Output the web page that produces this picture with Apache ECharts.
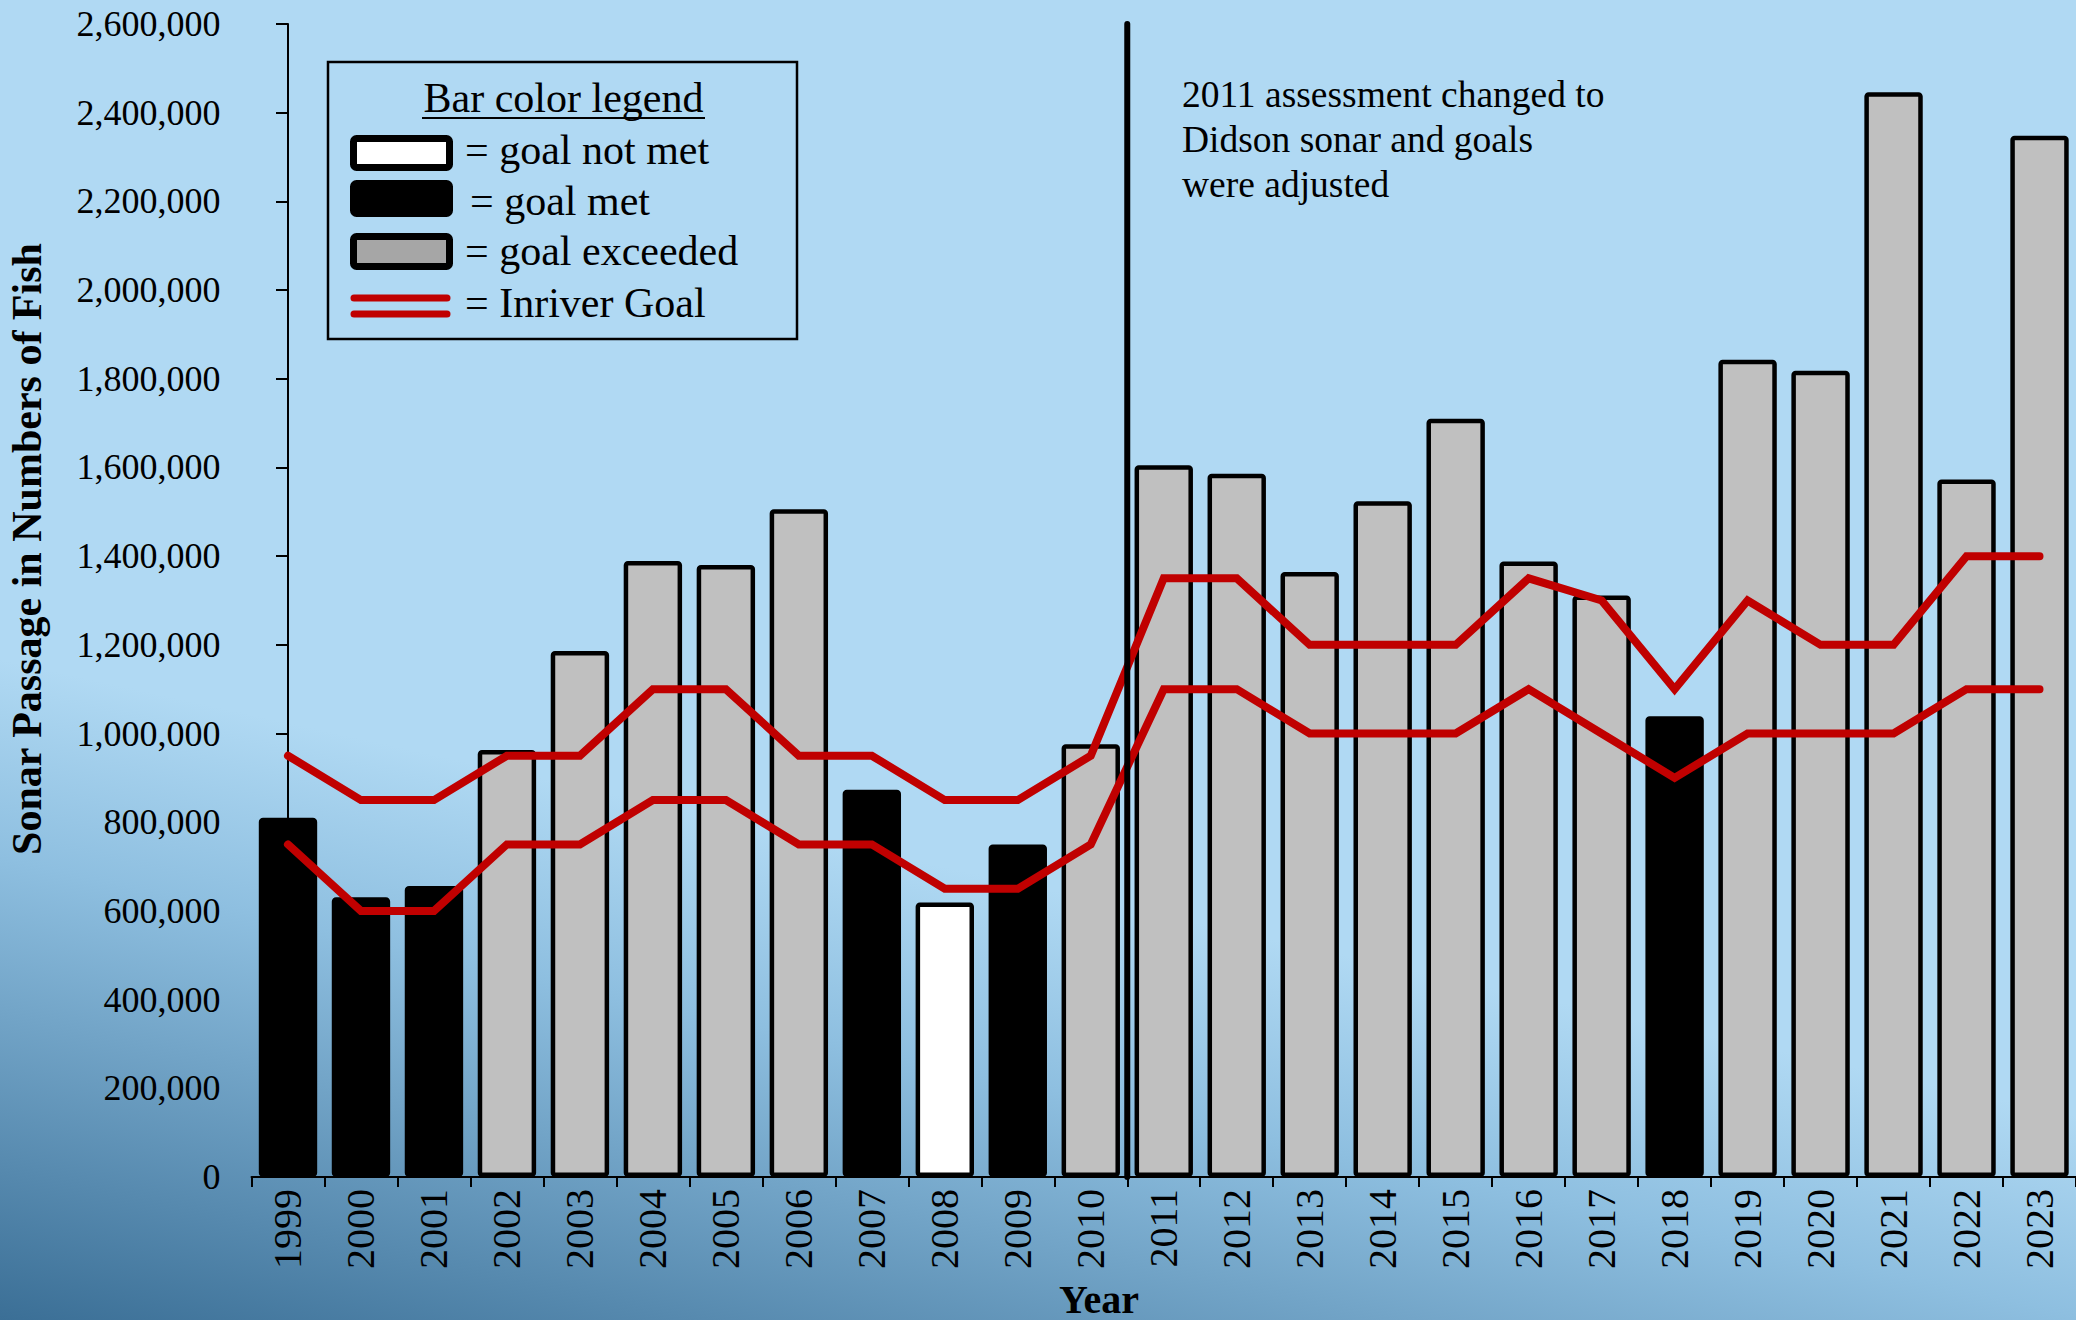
<!DOCTYPE html>
<html>
<head>
<meta charset="utf-8">
<script src="https://cdn.jsdelivr.net/npm/echarts/dist/echarts.min.js"></script>
<style>
html, body { margin: 0; padding: 0; }
#chart {
  width: 2076px; height: 1320px;
  background: linear-gradient(192.4deg, #b0d9f3 0%, #b0d9f3 62.8%, #8ebfe0 74%, #3b6f96 100%);
}
</style>
</head>
<body>
<div id="chart"></div>
<script>
// ---------------- data ----------------
const years = ['1999','2000','2001','2002','2003','2004','2005','2006','2007','2008','2009','2010',
               '2011','2012','2013','2014','2015','2016','2017','2018','2019','2020','2021','2022','2023'];
const sonarPassage = [810000, 631000, 656000, 963000, 1186000, 1389000, 1380000, 1506000, 873000, 619000, 750000, 976000,
                      1605000, 1586000, 1364000, 1524000, 1710000, 1388000, 1311000, 1039000, 1843000, 1818000, 2446000, 1573000, 2348000];
const goalStatus = ['met','met','met','exceeded','exceeded','exceeded','exceeded','exceeded','met','notmet','met','exceeded',
                    'exceeded','exceeded','exceeded','exceeded','exceeded','exceeded','exceeded','met','exceeded','exceeded','exceeded','exceeded','exceeded'];
const goalUpper = [950000, 850000, 850000, 950000, 950000, 1100000, 1100000, 950000, 950000, 850000, 850000, 950000,
                   1350000, 1350000, 1200000, 1200000, 1200000, 1350000, 1300000, 1100000, 1300000, 1200000, 1200000, 1400000, 1400000];
const goalLower = [750000, 600000, 600000, 750000, 750000, 850000, 850000, 750000, 750000, 650000, 650000, 750000,
                   1100000, 1100000, 1000000, 1000000, 1000000, 1100000, 1000000, 900000, 1000000, 1000000, 1000000, 1100000, 1100000];
const yMin = 0, yMax = 2600000, yStep = 200000;
const dividerLine = [[11.5, 0], [11.5, 2600000]]; // between 2010 and 2011 (category index units)
const annotationLines = ['2011 assessment changed to', 'Didson sonar and goals', 'were adjusted'];
const legendTitle = 'Bar color legend';
const legendLabels = ['= goal not met', '= goal met', '= goal exceeded', '= Inriver Goal'];
const xTitle = 'Year';
const yTitle = 'Sonar Passage in Numbers of Fish';

// ---------------- styles ----------------
const FONT = '"Liberation Serif", "Times New Roman", serif';
const RED = '#c00000';
const statusColor = { met: '#000000', exceeded: '#c0c0c0', notmet: '#ffffff' };

const chart = echarts.init(document.getElementById('chart'), null, { renderer: 'svg', width: 2076, height: 1320 });

const barData = sonarPassage.map((v, i) => ({ value: v, itemStyle: { color: statusColor[goalStatus[i]] } }));

const graphics = [
  // legend box
  { type: 'rect', shape: { x: 328, y: 62, width: 469, height: 277 }, style: { fill: 'none', stroke: '#000', lineWidth: 2.5 }, z: 50 },
  { type: 'text', x: 563.5, y: 98, style: { text: legendTitle, font: '42px ' + FONT, fill: '#000', align: 'center', verticalAlign: 'middle' }, z: 50 },
  { type: 'line', shape: { x1: 422, y1: 118, x2: 705, y2: 118 }, style: { stroke: '#000', lineWidth: 2 }, z: 50 },
  { type: 'rect', shape: { x: 353.5, y: 138.5, width: 96, height: 29, r: 3 }, style: { fill: statusColor.notmet, stroke: '#000', lineWidth: 7 }, z: 50 },
  { type: 'rect', shape: { x: 353.5, y: 183.5, width: 96, height: 30, r: 3 }, style: { fill: statusColor.met, stroke: '#000', lineWidth: 7 }, z: 50 },
  { type: 'rect', shape: { x: 353.5, y: 236.5, width: 96, height: 30, r: 3 }, style: { fill: '#a6a6a6', stroke: '#000', lineWidth: 7 }, z: 50 },
  { type: 'line', shape: { x1: 354, y1: 298, x2: 447, y2: 298 }, style: { stroke: RED, lineWidth: 7, lineCap: 'round' }, z: 50 },
  { type: 'line', shape: { x1: 354, y1: 314, x2: 447, y2: 314 }, style: { stroke: RED, lineWidth: 7, lineCap: 'round' }, z: 50 },
  { type: 'text', x: 465, y: 150, style: { text: legendLabels[0], font: '42px ' + FONT, fill: '#000', verticalAlign: 'middle' }, z: 50 },
  { type: 'text', x: 470, y: 201, style: { text: legendLabels[1], font: '42px ' + FONT, fill: '#000', verticalAlign: 'middle' }, z: 50 },
  { type: 'text', x: 465, y: 251, style: { text: legendLabels[2], font: '42px ' + FONT, fill: '#000', verticalAlign: 'middle' }, z: 50 },
  { type: 'text', x: 465, y: 303, style: { text: legendLabels[3], font: '42px ' + FONT, fill: '#000', verticalAlign: 'middle' }, z: 50 },
  // axis titles
  { type: 'text', x: 1099, y: 1299, style: { text: xTitle, font: 'bold 40px ' + FONT, fill: '#000', align: 'center', verticalAlign: 'middle' }, z: 50 },
  { type: 'text', x: 27, y: 549, rotation: Math.PI / 2, style: { text: yTitle, font: 'bold 42px ' + FONT, fill: '#000', align: 'center', verticalAlign: 'middle' }, z: 50 }
];
annotationLines.forEach((t, i) => {
  graphics.push({ type: 'text', x: 1182, y: 94 + i * 45, style: { text: t, font: '37.5px ' + FONT, fill: '#000', verticalAlign: 'middle' }, z: 50 });
});

const option = {
  animation: false,
  backgroundColor: 'transparent',
  grid: { left: 251.5, right: 0, top: 24, bottom: 143, containLabel: false, outerBoundsMode: 'none' },
  xAxis: [
    {
      type: 'category', data: years, boundaryGap: true,
      axisLine: { show: true, lineStyle: { color: '#000', width: 2 } },
      axisTick: { show: true, interval: 0, alignWithLabel: false, length: 10, lineStyle: { color: '#000', width: 2 } },
      axisLabel: { interval: 0, rotate: 90, margin: 12, color: '#000', fontFamily: FONT, fontSize: 40 },
      splitLine: { show: false }
    },
    { type: 'value', min: -0.5, max: 24.5, show: false }
  ],
  yAxis: {
    type: 'value', min: yMin, max: yMax, interval: yStep,
    axisLine: { show: true, lineStyle: { color: '#000', width: 2 } },
    axisTick: { show: true, length: 12, lineStyle: { color: '#000', width: 2 } },
    axisLabel: { margin: 31, color: '#000', fontFamily: FONT, fontSize: 36, formatter: v => v.toLocaleString('en-US') },
    splitLine: { show: false }
  },
  series: [
    {
      name: 'Sonar Passage', type: 'bar', data: barData, barWidth: '80%', z: 2,
      itemStyle: { borderColor: '#000', borderWidth: 4.5, borderRadius: 2 }
    },
    {
      name: 'Inriver Goal (upper)', type: 'line', data: goalUpper, symbol: 'none', z: 3,
      lineStyle: { color: RED, width: 8, cap: 'round', join: 'miter' }
    },
    {
      name: 'Inriver Goal (lower)', type: 'line', data: goalLower, symbol: 'none', z: 3,
      lineStyle: { color: RED, width: 8, cap: 'round', join: 'miter' }
    },
    {
      name: 'Assessment change', type: 'line', xAxisIndex: 1, yAxisIndex: 0, data: dividerLine, symbol: 'none', z: 4,
      lineStyle: { color: '#000', width: 6, cap: 'round' }
    }
  ],
  graphic: graphics
};
chart.setOption(option);
</script>
</body>
</html>
